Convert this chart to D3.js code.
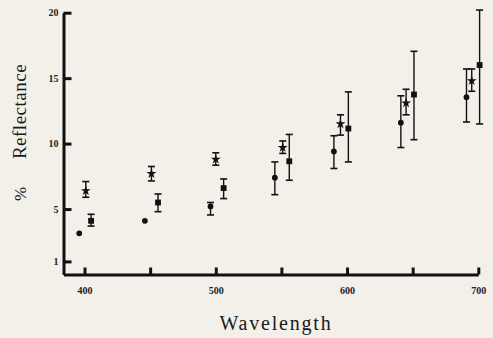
<!DOCTYPE html>
<html>
<head>
<meta charset="utf-8">
<script src="https://cdn.jsdelivr.net/npm/d3@7"></script>
<style>
  html, body { margin: 0; padding: 0; background: #f3f0ea; }
  svg { display: block; }
  .tick text { font-family: "Liberation Serif", "DejaVu Serif", serif; font-size: 10px; font-weight: bold; fill: #222; }
  .title { font-family: "Liberation Serif", "DejaVu Serif", serif; fill: #1a1a1a; }
</style>
</head>
<body>
<div id="chart"></div>
<script>
"use strict";

// wavelength ticks (only the hundreds get a label)
var xTicks = [400, 450, 500, 550, 600, 650, 700];
var yTicks = [1, 5, 10, 15, 20];

// circles
var circleX  = [396, 446, 496, 545, 590, 641, 691];
var circleY  = [3.15, 4.1, 5.2, 7.4, 9.4, 11.6, 13.55];
var circleLo = [null, null, 4.55, 6.1, 8.1, 9.7, 11.65];
var circleHi = [null, null, 5.5, 8.6, 10.6, 13.65, 15.7];

// stars
var starX  = [401, 451, 500, 551, 595, 645, 695];
var starY  = [6.4, 7.7, 8.8, 9.7, 11.5, 13.1, 14.8];
var starLo = [5.9, 7.15, 8.35, 9.25, 10.65, 12.2, 14.0];
var starHi = [7.1, 8.25, 9.3, 10.2, 12.2, 14.15, 15.7];

// squares
var squareX  = [405, 456, 506, 556, 601, 651, 701];
var squareY  = [4.1, 5.5, 6.6, 8.65, 11.15, 13.75, 16.0];
var squareLo = [3.7, 4.8, 5.8, 7.2, 8.6, 10.3, 11.5];
var squareHi = [4.6, 6.15, 7.3, 10.7, 13.95, 17.05, 20.2];

var width = 493, height = 338;

var svg = d3.select("#chart").append("svg")
    .attr("width", width)
    .attr("height", height);

var x = d3.scaleLinear().domain([384, 700]).range([63.5, 478.3]);
var y = d3.scaleLinear().domain([0, 20]).range([274.5, 12.7]);

// axes
var xAxis = d3.axisBottom(x)
    .tickValues(xTicks)
    .tickSizeInner(-7)
    .tickSizeOuter(0)
    .tickPadding(12)
    .tickFormat(function (d) { return d % 100 === 0 ? d : ""; });

var gx = svg.append("g")
    .attr("transform", "translate(0," + y(0) + ")")
    .call(xAxis);

var yAxis = d3.axisLeft(y)
    .tickValues(yTicks)
    .tickSizeInner(-8)
    .tickSizeOuter(0)
    .tickPadding(5);

var gy = svg.append("g")
    .attr("transform", "translate(" + x(384) + ",0)")
    .call(yAxis);

[gx, gy].forEach(function (g) {
    g.select(".domain").attr("stroke", "#111").attr("stroke-width", 3);
    g.selectAll(".tick line").attr("stroke", "#111").attr("stroke-width", 3);
});
gx.selectAll(".tick text").attr("dy", "0.71em");

// axis titles
svg.append("text")
    .attr("class", "title")
    .attr("x", 276)
    .attr("y", 330)
    .attr("text-anchor", "middle")
    .style("font-size", "20px")
    .style("letter-spacing", "1.8px")
    .text("Wavelength");

svg.append("text")
    .attr("class", "title")
    .attr("transform", "translate(26,111.5) rotate(-90)")
    .attr("text-anchor", "middle")
    .style("font-size", "19px")
    .style("letter-spacing", "0.5px")
    .text("Reflectance");

svg.append("text")
    .attr("class", "title")
    .attr("transform", "translate(26,194) rotate(-90)")
    .attr("text-anchor", "middle")
    .style("font-size", "17px")
    .text("%");

// error bars + markers
function drawSeries(xs, ys, lo, hi, symbol, size) {
    var data = xs.map(function (d, i) {
        return { w: d, v: ys[i], lo: lo[i], hi: hi[i] };
    });
    var g = svg.append("g");
    var bars = data.filter(function (d) { return d.lo !== null; });

    g.selectAll("line.err").data(bars).enter().append("line")
        .attr("class", "err")
        .attr("x1", function (d) { return x(d.w); })
        .attr("x2", function (d) { return x(d.w); })
        .attr("y1", function (d) { return y(d.lo); })
        .attr("y2", function (d) { return y(d.hi); })
        .attr("stroke", "#111").attr("stroke-width", 1.4);

    ["lo", "hi"].forEach(function (k) {
        g.selectAll("line.cap-" + k).data(bars).enter().append("line")
            .attr("class", "cap-" + k)
            .attr("x1", function (d) { return x(d.w) - 3.5; })
            .attr("x2", function (d) { return x(d.w) + 3.5; })
            .attr("y1", function (d) { return y(d[k]); })
            .attr("y2", function (d) { return y(d[k]); })
            .attr("stroke", "#111").attr("stroke-width", 1.6);
    });

    g.selectAll("path.pt").data(data).enter().append("path")
        .attr("class", "pt")
        .attr("transform", function (d) { return "translate(" + x(d.w) + "," + y(d.v) + ")"; })
        .attr("d", d3.symbol().type(symbol).size(size))
        .attr("fill", "#111");
}

drawSeries(circleX, circleY, circleLo, circleHi, d3.symbolCircle, 26);
drawSeries(starX, starY, starLo, starHi, d3.symbolStar, 30);
drawSeries(squareX, squareY, squareLo, squareHi, d3.symbolSquare, 34);
</script>
</body>
</html>
